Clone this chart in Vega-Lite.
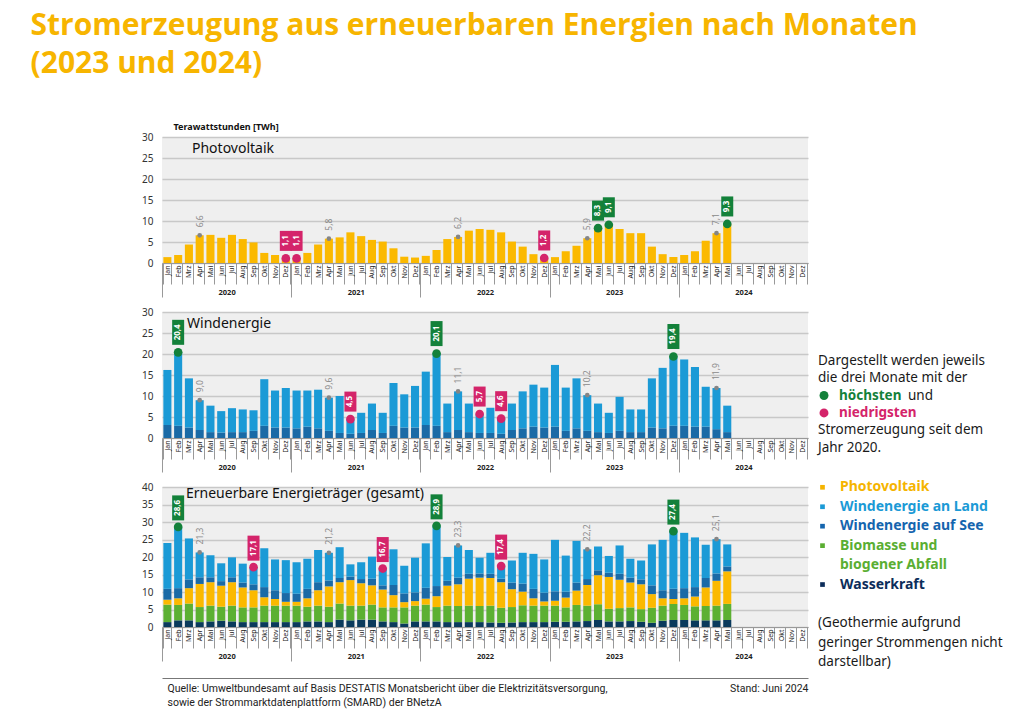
{
  "$schema": "https://vega.github.io/schema/vega-lite/v6.json",
  "padding": {"left": 30, "top": 11, "right": 4, "bottom": 4},
  "config": {
    "font": "Noto Sans",
    "view": {"stroke": null},
    "locale": {"number": {"decimal": ",", "thousands": ".", "grouping": [3], "currency": ["", " €"]}}
  },
  "title": {
    "text": ["Stromerzeugung aus erneuerbaren Energien nach Monaten", "(2023 und 2024)"],
    "anchor": "start",
    "frame": "bounds",
    "dx": -111,
    "offset": 43,
    "font": "Open Sans",
    "fontSize": 30,
    "fontWeight": "bold",
    "lineHeight": 38,
    "color": "#f7b500"
  },
  "datasets": {
    "d": [
      {"m":"2020-01","pv":1.4,"on":13.1,"off":3.1,"bio":5.0,"wasser":1.4},
      {"m":"2020-02","pv":1.9,"on":17.5,"off":2.9,"bio":4.4,"wasser":1.9},
      {"m":"2020-03","pv":4.4,"on":11.7,"off":2.5,"bio":4.8,"wasser":1.9},
      {"m":"2020-04","pv":6.6,"on":7.1,"off":1.9,"bio":4.3,"wasser":1.4},
      {"m":"2020-05","pv":6.7,"on":6.3,"off":1.4,"bio":4.5,"wasser":1.6},
      {"m":"2020-06","pv":6.0,"on":5.1,"off":1.3,"bio":4.0,"wasser":1.8},
      {"m":"2020-07","pv":6.7,"on":5.7,"off":1.4,"bio":4.5,"wasser":1.6},
      {"m":"2020-08","pv":5.7,"on":5.4,"off":1.4,"bio":4.2,"wasser":1.4},
      {"m":"2020-09","pv":4.9,"on":4.9,"off":1.7,"bio":4.2,"wasser":1.4},
      {"m":"2020-10","pv":2.4,"on":11.1,"off":2.9,"bio":4.7,"wasser":1.4},
      {"m":"2020-11","pv":1.9,"on":8.8,"off":2.5,"bio":4.7,"wasser":1.4},
      {"m":"2020-12","pv":1.1,"on":9.4,"off":2.5,"bio":4.7,"wasser":1.4},
      {"m":"2021-01","pv":1.1,"on":9.0,"off":2.3,"bio":4.7,"wasser":1.4},
      {"m":"2021-02","pv":2.4,"on":8.6,"off":2.7,"bio":4.2,"wasser":1.6},
      {"m":"2021-03","pv":4.4,"on":9.2,"off":2.3,"bio":4.5,"wasser":1.6},
      {"m":"2021-04","pv":5.8,"on":7.9,"off":1.7,"bio":4.4,"wasser":1.4},
      {"m":"2021-05","pv":6.1,"on":8.8,"off":1.2,"bio":4.6,"wasser":2.1},
      {"m":"2021-06","pv":7.3,"on":3.5,"off":1.0,"bio":4.2,"wasser":1.9},
      {"m":"2021-07","pv":6.4,"on":4.8,"off":1.2,"bio":4.0,"wasser":2.1},
      {"m":"2021-08","pv":5.5,"on":6.3,"off":1.9,"bio":4.3,"wasser":2.1},
      {"m":"2021-09","pv":5.1,"on":4.8,"off":1.2,"bio":4.0,"wasser":1.6},
      {"m":"2021-10","pv":3.5,"on":10.2,"off":2.9,"bio":4.2,"wasser":1.4},
      {"m":"2021-11","pv":1.5,"on":7.9,"off":2.5,"bio":4.6,"wasser":1.0},
      {"m":"2021-12","pv":1.3,"on":9.9,"off":2.5,"bio":4.5,"wasser":1.6},
      {"m":"2022-01","pv":1.7,"on":12.7,"off":3.1,"bio":4.8,"wasser":1.6},
      {"m":"2022-02","pv":3.1,"on":17.2,"off":2.9,"bio":4.1,"wasser":1.6},
      {"m":"2022-03","pv":5.7,"on":6.8,"off":1.4,"bio":4.7,"wasser":1.4},
      {"m":"2022-04","pv":6.2,"on":9.2,"off":1.9,"bio":4.6,"wasser":1.4},
      {"m":"2022-05","pv":7.7,"on":6.8,"off":1.4,"bio":4.7,"wasser":1.4},
      {"m":"2022-06","pv":8.1,"on":4.5,"off":1.2,"bio":4.6,"wasser":1.4},
      {"m":"2022-07","pv":7.9,"on":6.0,"off":1.2,"bio":4.8,"wasser":1.3},
      {"m":"2022-08","pv":7.3,"on":3.6,"off":1.0,"bio":4.3,"wasser":1.2},
      {"m":"2022-09","pv":5.1,"on":6.3,"off":1.9,"bio":4.4,"wasser":1.3},
      {"m":"2022-10","pv":3.9,"on":8.8,"off":2.3,"bio":4.8,"wasser":1.4},
      {"m":"2022-11","pv":2.1,"on":10.0,"off":2.7,"bio":4.7,"wasser":1.4},
      {"m":"2022-12","pv":1.2,"on":9.5,"off":2.5,"bio":4.7,"wasser":1.4},
      {"m":"2023-01","pv":1.4,"on":14.7,"off":2.7,"bio":4.6,"wasser":1.5},
      {"m":"2023-02","pv":2.8,"on":10.3,"off":1.7,"bio":4.1,"wasser":1.5},
      {"m":"2023-03","pv":4.1,"on":11.9,"off":2.3,"bio":4.7,"wasser":1.6},
      {"m":"2023-04","pv":5.9,"on":8.5,"off":1.7,"bio":4.4,"wasser":1.7},
      {"m":"2023-05","pv":8.3,"on":6.8,"off":1.4,"bio":4.5,"wasser":2.0},
      {"m":"2023-06","pv":9.1,"on":4.8,"off":1.2,"bio":3.6,"wasser":1.6},
      {"m":"2023-07","pv":8.1,"on":8.1,"off":1.7,"bio":3.8,"wasser":1.6},
      {"m":"2023-08","pv":7.1,"on":5.4,"off":1.4,"bio":3.9,"wasser":1.7},
      {"m":"2023-09","pv":7.1,"on":5.4,"off":1.4,"bio":3.6,"wasser":1.5},
      {"m":"2023-10","pv":3.9,"on":11.7,"off":2.5,"bio":4.3,"wasser":1.2},
      {"m":"2023-11","pv":2.1,"on":14.4,"off":2.3,"bio":4.3,"wasser":1.8},
      {"m":"2023-12","pv":1.4,"on":16.5,"off":2.9,"bio":4.6,"wasser":2.0},
      {"m":"2024-01","pv":1.9,"on":15.8,"off":2.9,"bio":4.3,"wasser":2.0},
      {"m":"2024-02","pv":2.8,"on":14.2,"off":2.7,"bio":4.0,"wasser":1.9},
      {"m":"2024-03","pv":5.3,"on":9.5,"off":2.7,"bio":4.1,"wasser":1.9},
      {"m":"2024-04","pv":7.1,"on":9.8,"off":2.1,"bio":4.2,"wasser":1.9},
      {"m":"2024-05","pv":9.3,"on":6.3,"off":1.4,"bio":4.6,"wasser":2.0}
    ],
    "marks": [
      {"p":"pv","m":"2023-05","v":8.3,"k":"high"},
      {"p":"pv","m":"2023-06","v":9.1,"k":"high"},
      {"p":"pv","m":"2024-05","v":9.3,"k":"high"},
      {"p":"pv","m":"2020-12","v":1.1,"k":"low"},
      {"p":"pv","m":"2021-01","v":1.1,"k":"low"},
      {"p":"pv","m":"2022-12","v":1.2,"k":"low"},
      {"p":"pv","m":"2020-04","v":6.6,"k":"apr"},
      {"p":"pv","m":"2021-04","v":5.8,"k":"apr"},
      {"p":"pv","m":"2022-04","v":6.2,"k":"apr"},
      {"p":"pv","m":"2023-04","v":5.9,"k":"apr"},
      {"p":"pv","m":"2024-04","v":7.1,"k":"apr"},
      {"p":"wind","m":"2020-02","v":20.4,"k":"high"},
      {"p":"wind","m":"2022-02","v":20.1,"k":"high"},
      {"p":"wind","m":"2023-12","v":19.4,"k":"high"},
      {"p":"wind","m":"2021-06","v":4.5,"k":"low"},
      {"p":"wind","m":"2022-06","v":5.7,"k":"low"},
      {"p":"wind","m":"2022-08","v":4.6,"k":"low"},
      {"p":"wind","m":"2020-04","v":9.0,"k":"apr"},
      {"p":"wind","m":"2021-04","v":9.6,"k":"apr"},
      {"p":"wind","m":"2022-04","v":11.1,"k":"apr"},
      {"p":"wind","m":"2023-04","v":10.2,"k":"apr"},
      {"p":"wind","m":"2024-04","v":11.9,"k":"apr"},
      {"p":"total","m":"2020-02","v":28.6,"k":"high"},
      {"p":"total","m":"2022-02","v":28.9,"k":"high"},
      {"p":"total","m":"2023-12","v":27.4,"k":"high"},
      {"p":"total","m":"2020-09","v":17.1,"k":"low"},
      {"p":"total","m":"2021-09","v":16.7,"k":"low"},
      {"p":"total","m":"2022-08","v":17.4,"k":"low"},
      {"p":"total","m":"2020-04","v":21.3,"k":"apr"},
      {"p":"total","m":"2021-04","v":21.2,"k":"apr"},
      {"p":"total","m":"2022-04","v":23.3,"k":"apr"},
      {"p":"total","m":"2023-04","v":22.2,"k":"apr"},
      {"p":"total","m":"2024-04","v":25.1,"k":"apr"}
    ],
    "rank": [
      {"key":"wasser","rank":1},{"key":"bio","rank":2},{"key":"pv","rank":3},{"key":"off","rank":4},{"key":"on","rank":5}
    ],
    "leg2": [
      {"n":0,"t":"Dargestellt werden jeweils","k":"note"},
      {"n":1,"t":"die drei Monate mit der","k":"note"},
      {"n":2,"t":"höchsten","k":"high"},
      {"n":2,"t":"und","k":"und"},
      {"n":3,"t":"niedrigsten","k":"low"},
      {"n":4,"t":"Stromerzeugung seit dem","k":"note"},
      {"n":5,"t":"Jahr 2020.","k":"note"}
    ],
    "leg3": [
      {"n":0,"t":"Photovoltaik","k":"pv"},
      {"n":1,"t":"Windenergie an Land","k":"on"},
      {"n":2,"t":"Windenergie auf See","k":"off"},
      {"n":3,"t":"Biomasse und","k":"bio"},
      {"n":4,"t":"biogener Abfall","k":"bio"},
      {"n":5,"t":"Wasserkraft","k":"wasser"},
      {"n":7,"t":"(Geothermie aufgrund","k":"note"},
      {"n":8,"t":"geringer Strommengen nicht","k":"note"},
      {"n":9,"t":"darstellbar)","k":"note"}
    ]
  },
  "columns": 2,
  "spacing": {"row": 49, "column": 10},
  "bounds": "flush",
  "resolve": {"scale": {"color": "independent"}},
  "concat": [
    {
      "width": 646, "height": 126,
      "view": {"fill": "#efefef", "stroke": null},
      "title": {"text": "Photovoltaik", "anchor": "start", "frame": "group", "offset": -41, "dx": 30, "fontSize": 14, "fontWeight": "normal", "baseline": "middle", "color": "#111"},
      "resolve": {"axis": {"x": "independent", "y": "independent"}},
      "layer": [
        {
          "data": {"name": "d"},
          "mark": {"type": "bar", "color": "#fbb900"},
          "encoding": {
            "x": {"field": "m", "type": "ordinal",
              "scale": {"domain": ["2020-01","2020-02","2020-03","2020-04","2020-05","2020-06","2020-07","2020-08","2020-09","2020-10","2020-11","2020-12","2021-01","2021-02","2021-03","2021-04","2021-05","2021-06","2021-07","2021-08","2021-09","2021-10","2021-11","2021-12","2022-01","2022-02","2022-03","2022-04","2022-05","2022-06","2022-07","2022-08","2022-09","2022-10","2022-11","2022-12","2023-01","2023-02","2023-03","2023-04","2023-05","2023-06","2023-07","2023-08","2023-09","2023-10","2023-11","2023-12","2024-01","2024-02","2024-03","2024-04","2024-05","2024-06","2024-07","2024-08","2024-09","2024-10","2024-11","2024-12"], "paddingInner": 0.25, "paddingOuter": 0.125},
              "axis": {"orient": "bottom", "title": null, "labelExpr": "['Jan','Feb','Mrz','Apr','Mai','Jun','Jul','Aug','Sep','Okt','Nov','Dez'][toNumber(substring(datum.value,5,7))-1]", "labelAngle": 270, "labelAlign": "right", "labelBaseline": "middle", "labelPadding": -19, "labelFontSize": 7, "labelColor": "#222", "tickBand": "extent", "tickSize": 21, "tickColor": "#999", "domainColor": "#999", "labelOverlap": false, "labelBound": false, "labelFlush": false, "grid": false}},
            "y": {"field": "pv", "type": "quantitative", "scale": {"domain": [0, 30]},
              "axis": {"orient": "left", "title": "Terawattstunden [TWh]", "titleAngle": 0, "titleAlign": "left", "titleBaseline": "middle", "titleX": 11, "titleY": -11, "titleFontSize": 9, "titleFontWeight": "bold", "titleColor": "#111", "values": [0,5,10,15,20,25,30], "grid": true, "gridColor": "#c8c8c8", "gridWidth": 1.6, "domain": false, "ticks": false, "labelPadding": 9, "labelFontSize": 10, "labelColor": "#333"}}
          }
        },
        {
          "data": {"name": "marks"},
          "transform": [{"filter": "datum.p == 'pv' && datum.k != 'apr'"}],
          "mark": {"type": "point", "shape": "circle", "filled": true, "size": 75, "opacity": 1},
          "encoding": {
            "x": {"field": "m", "type": "ordinal",
              "axis": {"orient": "bottom", "title": null, "values": ["2020-01","2021-01","2022-01","2023-01","2024-01"], "labelExpr": "substring(datum.value,0,4)", "tickOffset": -5.383, "labelOffset": 64.6, "tickSize": 34, "tickColor": "#999", "domain": false, "labelAngle": 0, "labelPadding": -9, "labelFontSize": 7.5, "labelFontWeight": "bold", "labelColor": "#222", "grid": false, "labelOverlap": false, "labelBound": false, "labelFlush": false}},
            "y": {"field": "v", "type": "quantitative", "axis": null},
            "color": {"condition": {"test": "datum.k == 'high'", "value": "#13813a"}, "value": "#d4246a"}
          }
        },
        {
          "data": {"name": "marks"},
          "transform": [{"filter": "datum.p == 'pv' && datum.k != 'apr' && datum.v < 10"}],
          "mark": {"type": "point", "shape": "M-0.6,-1H0.6V1H-0.6Z", "filled": true, "size": 400, "opacity": 1, "yOffset": -17.5},
          "encoding": {
            "x": {"field": "m", "type": "ordinal", "axis": null},
            "y": {"field": "v", "type": "quantitative", "axis": null},
            "color": {"condition": {"test": "datum.k == 'high'", "value": "#13813a"}, "value": "#d4246a"}
          }
        },
        {
          "data": {"name": "marks"},
          "transform": [{"filter": "datum.p == 'pv' && datum.k != 'apr' && datum.v < 10"}],
          "mark": {"type": "text", "angle": 270, "align": "center", "baseline": "middle", "yOffset": -17.5, "color": "white", "fontSize": 8, "fontWeight": "bold"},
          "encoding": {
            "x": {"field": "m", "type": "ordinal", "axis": null},
            "y": {"field": "v", "type": "quantitative", "axis": null},
            "text": {"field": "v", "type": "quantitative", "format": ".1f"}
          }
        },
        {
          "data": {"name": "marks"},
          "transform": [{"filter": "datum.p == 'pv' && datum.k == 'apr'"}],
          "mark": {"type": "point", "shape": "circle", "filled": true, "size": 22, "opacity": 1, "color": "#858585"},
          "encoding": {
            "x": {"field": "m", "type": "ordinal", "axis": null},
            "y": {"field": "v", "type": "quantitative", "axis": null}
          }
        },
        {
          "data": {"name": "marks"},
          "transform": [{"filter": "datum.p == 'pv' && datum.k == 'apr'"}],
          "mark": {"type": "text", "angle": 270, "align": "left", "baseline": "middle", "yOffset": -8, "color": "#8a8a8a", "fontSize": 8.5},
          "encoding": {
            "x": {"field": "m", "type": "ordinal", "axis": null},
            "y": {"field": "v", "type": "quantitative", "axis": null},
            "text": {"field": "v", "type": "quantitative", "format": ".1f"}
          }
        }
      ]
    },
    {
      "width": 190, "height": 126,
      "data": {"values": [{}]},
      "mark": {"type": "text", "text": ""}
    },
    {
      "width": 646, "height": 126,
      "view": {"fill": "#efefef", "stroke": null},
      "title": {"text": "Windenergie", "anchor": "start", "frame": "group", "offset": -31, "dx": 25, "fontSize": 14, "fontWeight": "normal", "baseline": "middle", "color": "#111"},
      "resolve": {"axis": {"x": "independent", "y": "independent"}},
      "layer": [
        {
          "data": {"name": "d"},
          "transform": [{"fold": ["off", "on"]}],
          "mark": {"type": "bar"},
          "encoding": {
            "x": {"field": "m", "type": "ordinal",
              "scale": {"domain": ["2020-01","2020-02","2020-03","2020-04","2020-05","2020-06","2020-07","2020-08","2020-09","2020-10","2020-11","2020-12","2021-01","2021-02","2021-03","2021-04","2021-05","2021-06","2021-07","2021-08","2021-09","2021-10","2021-11","2021-12","2022-01","2022-02","2022-03","2022-04","2022-05","2022-06","2022-07","2022-08","2022-09","2022-10","2022-11","2022-12","2023-01","2023-02","2023-03","2023-04","2023-05","2023-06","2023-07","2023-08","2023-09","2023-10","2023-11","2023-12","2024-01","2024-02","2024-03","2024-04","2024-05","2024-06","2024-07","2024-08","2024-09","2024-10","2024-11","2024-12"], "paddingInner": 0.25, "paddingOuter": 0.125},
              "axis": {"orient": "bottom", "title": null, "labelExpr": "['Jan','Feb','Mrz','Apr','Mai','Jun','Jul','Aug','Sep','Okt','Nov','Dez'][toNumber(substring(datum.value,5,7))-1]", "labelAngle": 270, "labelAlign": "right", "labelBaseline": "middle", "labelPadding": -19, "labelFontSize": 7, "labelColor": "#222", "tickBand": "extent", "tickSize": 21, "tickColor": "#999", "domainColor": "#999", "labelOverlap": false, "labelBound": false, "labelFlush": false, "grid": false}},
            "y": {"field": "value", "type": "quantitative", "stack": "zero", "scale": {"domain": [0, 30]},
              "axis": {"orient": "left", "title": null, "values": [0,5,10,15,20,25,30], "grid": true, "gridColor": "#c8c8c8", "gridWidth": 1.6, "domain": false, "ticks": false, "labelPadding": 9, "labelFontSize": 10, "labelColor": "#333"}},
            "color": {"field": "key", "type": "nominal", "scale": {"domain": ["off", "on"], "range": ["#1a6aa6", "#1b9ad6"]}, "legend": null},
            "order": {"field": "key"}
          }
        },
        {
          "data": {"name": "marks"},
          "transform": [{"filter": "datum.p == 'wind' && datum.k != 'apr'"}],
          "mark": {"type": "point", "shape": "circle", "filled": true, "size": 75, "opacity": 1},
          "encoding": {
            "x": {"field": "m", "type": "ordinal",
              "axis": {"orient": "bottom", "title": null, "values": ["2020-01","2021-01","2022-01","2023-01","2024-01"], "labelExpr": "substring(datum.value,0,4)", "tickOffset": -5.383, "labelOffset": 64.6, "tickSize": 34, "tickColor": "#999", "domain": false, "labelAngle": 0, "labelPadding": -9, "labelFontSize": 7.5, "labelFontWeight": "bold", "labelColor": "#222", "grid": false, "labelOverlap": false, "labelBound": false, "labelFlush": false}},
            "y": {"field": "v", "type": "quantitative", "axis": null},
            "color": {"condition": {"test": "datum.k == 'high'", "value": "#13813a"}, "value": "#d4246a"}
          }
        },
        {
          "data": {"name": "marks"},
          "transform": [{"filter": "datum.p == 'wind' && datum.k != 'apr' && datum.v < 10"}],
          "mark": {"type": "point", "shape": "M-0.6,-1H0.6V1H-0.6Z", "filled": true, "size": 400, "opacity": 1, "yOffset": -17.5},
          "encoding": {
            "x": {"field": "m", "type": "ordinal", "axis": null},
            "y": {"field": "v", "type": "quantitative", "axis": null},
            "color": {"condition": {"test": "datum.k == 'high'", "value": "#13813a"}, "value": "#d4246a"}
          }
        },
        {
          "data": {"name": "marks"},
          "transform": [{"filter": "datum.p == 'wind' && datum.k != 'apr' && datum.v >= 10"}],
          "mark": {"type": "point", "shape": "M-0.48,-1H0.48V1H-0.48Z", "filled": true, "size": 625, "opacity": 1, "yOffset": -20},
          "encoding": {
            "x": {"field": "m", "type": "ordinal", "axis": null},
            "y": {"field": "v", "type": "quantitative", "axis": null},
            "color": {"condition": {"test": "datum.k == 'high'", "value": "#13813a"}, "value": "#d4246a"}
          }
        },
        {
          "data": {"name": "marks"},
          "transform": [{"filter": "datum.p == 'wind' && datum.k != 'apr' && datum.v < 10"}],
          "mark": {"type": "text", "angle": 270, "align": "center", "baseline": "middle", "yOffset": -17.5, "color": "white", "fontSize": 8, "fontWeight": "bold"},
          "encoding": {
            "x": {"field": "m", "type": "ordinal", "axis": null},
            "y": {"field": "v", "type": "quantitative", "axis": null},
            "text": {"field": "v", "type": "quantitative", "format": ".1f"}
          }
        },
        {
          "data": {"name": "marks"},
          "transform": [{"filter": "datum.p == 'wind' && datum.k != 'apr' && datum.v >= 10"}],
          "mark": {"type": "text", "angle": 270, "align": "center", "baseline": "middle", "yOffset": -20, "color": "white", "fontSize": 8, "fontWeight": "bold"},
          "encoding": {
            "x": {"field": "m", "type": "ordinal", "axis": null},
            "y": {"field": "v", "type": "quantitative", "axis": null},
            "text": {"field": "v", "type": "quantitative", "format": ".1f"}
          }
        },
        {
          "data": {"name": "marks"},
          "transform": [{"filter": "datum.p == 'wind' && datum.k == 'apr'"}],
          "mark": {"type": "point", "shape": "circle", "filled": true, "size": 22, "opacity": 1, "color": "#858585"},
          "encoding": {
            "x": {"field": "m", "type": "ordinal", "axis": null},
            "y": {"field": "v", "type": "quantitative", "axis": null}
          }
        },
        {
          "data": {"name": "marks"},
          "transform": [{"filter": "datum.p == 'wind' && datum.k == 'apr'"}],
          "mark": {"type": "text", "angle": 270, "align": "left", "baseline": "middle", "yOffset": -8, "color": "#8a8a8a", "fontSize": 8.5},
          "encoding": {
            "x": {"field": "m", "type": "ordinal", "axis": null},
            "y": {"field": "v", "type": "quantitative", "axis": null},
            "text": {"field": "v", "type": "quantitative", "format": ".1f"}
          }
        }
      ]
    },
    {
      "width": 190, "height": 126,
      "data": {"name": "leg2"},
      "encoding": {
        "x": {"datum": 0, "type": "quantitative", "scale": {"domain": [0, 1]}, "axis": null},
        "y": {"field": "n", "type": "quantitative", "scale": {"domain": [-2.8, 4.44], "reverse": true, "zero": false, "nice": false}, "axis": null}
      },
      "layer": [
        {
          "transform": [{"filter": "datum.k == 'note'"}],
          "mark": {"type": "text", "align": "left", "baseline": "middle", "fontSize": 13.5, "color": "#1a1a1a"},
          "encoding": {"text": {"field": "t"}}
        },
        {
          "transform": [{"filter": "datum.k == 'und'"}],
          "mark": {"type": "text", "align": "left", "baseline": "middle", "fontSize": 13.5, "color": "#1a1a1a", "dx": 90},
          "encoding": {"text": {"field": "t"}}
        },
        {
          "transform": [{"filter": "datum.k == 'high' || datum.k == 'low'"}],
          "mark": {"type": "text", "align": "left", "baseline": "middle", "fontSize": 13.5, "fontWeight": "bold", "dx": 21},
          "encoding": {
            "text": {"field": "t"},
            "color": {"condition": {"test": "datum.k == 'high'", "value": "#13813a"}, "value": "#d4246a"}
          }
        },
        {
          "transform": [{"filter": "datum.k == 'high' || datum.k == 'low'"}],
          "mark": {"type": "point", "shape": "circle", "filled": true, "size": 80, "opacity": 1, "xOffset": 6},
          "encoding": {
            "color": {"condition": {"test": "datum.k == 'high'", "value": "#13813a"}, "value": "#d4246a"}
          }
        }
      ]
    },
    {
      "width": 646, "height": 140,
      "view": {"fill": "#efefef", "stroke": null},
      "title": {"text": "Erneuerbare Energieträger (gesamt)", "anchor": "start", "frame": "group", "offset": -26, "dx": 24, "fontSize": 14, "fontWeight": "normal", "baseline": "middle", "color": "#111"},
      "resolve": {"axis": {"x": "independent", "y": "independent"}},
      "layer": [
        {
          "data": {"name": "d"},
          "transform": [
            {"fold": ["wasser", "bio", "pv", "off", "on"]},
            {"lookup": "key", "from": {"data": {"name": "rank"}, "key": "key", "fields": ["rank"]}}
          ],
          "mark": {"type": "bar"},
          "encoding": {
            "x": {"field": "m", "type": "ordinal",
              "scale": {"domain": ["2020-01","2020-02","2020-03","2020-04","2020-05","2020-06","2020-07","2020-08","2020-09","2020-10","2020-11","2020-12","2021-01","2021-02","2021-03","2021-04","2021-05","2021-06","2021-07","2021-08","2021-09","2021-10","2021-11","2021-12","2022-01","2022-02","2022-03","2022-04","2022-05","2022-06","2022-07","2022-08","2022-09","2022-10","2022-11","2022-12","2023-01","2023-02","2023-03","2023-04","2023-05","2023-06","2023-07","2023-08","2023-09","2023-10","2023-11","2023-12","2024-01","2024-02","2024-03","2024-04","2024-05","2024-06","2024-07","2024-08","2024-09","2024-10","2024-11","2024-12"], "paddingInner": 0.25, "paddingOuter": 0.125},
              "axis": {"orient": "bottom", "title": null, "labelExpr": "['Jan','Feb','Mrz','Apr','Mai','Jun','Jul','Aug','Sep','Okt','Nov','Dez'][toNumber(substring(datum.value,5,7))-1]", "labelAngle": 270, "labelAlign": "right", "labelBaseline": "middle", "labelPadding": -19, "labelFontSize": 7, "labelColor": "#222", "tickBand": "extent", "tickSize": 21, "tickColor": "#999", "domainColor": "#999", "labelOverlap": false, "labelBound": false, "labelFlush": false, "grid": false}},
            "y": {"field": "value", "type": "quantitative", "stack": "zero", "scale": {"domain": [0, 40]},
              "axis": {"orient": "left", "title": null, "values": [0,5,10,15,20,25,30,35,40], "grid": true, "gridColor": "#c8c8c8", "gridWidth": 1.6, "domain": false, "ticks": false, "labelPadding": 9, "labelFontSize": 10, "labelColor": "#333"}},
            "color": {"field": "key", "type": "nominal", "scale": {"domain": ["wasser", "bio", "pv", "off", "on"], "range": ["#0a3a5c", "#5cb032", "#fbb900", "#1a6aa6", "#1b9ad6"]}, "legend": null},
            "order": {"field": "rank", "type": "quantitative"}
          }
        },
        {
          "data": {"name": "marks"},
          "transform": [{"filter": "datum.p == 'total' && datum.k != 'apr'"}],
          "mark": {"type": "point", "shape": "circle", "filled": true, "size": 75, "opacity": 1},
          "encoding": {
            "x": {"field": "m", "type": "ordinal",
              "axis": {"orient": "bottom", "title": null, "values": ["2020-01","2021-01","2022-01","2023-01","2024-01"], "labelExpr": "substring(datum.value,0,4)", "tickOffset": -5.383, "labelOffset": 64.6, "tickSize": 34, "tickColor": "#999", "domain": false, "labelAngle": 0, "labelPadding": -9, "labelFontSize": 7.5, "labelFontWeight": "bold", "labelColor": "#222", "grid": false, "labelOverlap": false, "labelBound": false, "labelFlush": false}},
            "y": {"field": "v", "type": "quantitative", "axis": null},
            "color": {"condition": {"test": "datum.k == 'high'", "value": "#13813a"}, "value": "#d4246a"}
          }
        },
        {
          "data": {"name": "marks"},
          "transform": [{"filter": "datum.p == 'total' && datum.k != 'apr'"}],
          "mark": {"type": "point", "shape": "M-0.48,-1H0.48V1H-0.48Z", "filled": true, "size": 625, "opacity": 1, "yOffset": -19},
          "encoding": {
            "x": {"field": "m", "type": "ordinal", "axis": null},
            "y": {"field": "v", "type": "quantitative", "axis": null},
            "color": {"condition": {"test": "datum.k == 'high'", "value": "#13813a"}, "value": "#d4246a"}
          }
        },
        {
          "data": {"name": "marks"},
          "transform": [{"filter": "datum.p == 'total' && datum.k != 'apr'"}],
          "mark": {"type": "text", "angle": 270, "align": "center", "baseline": "middle", "yOffset": -19, "color": "white", "fontSize": 8, "fontWeight": "bold"},
          "encoding": {
            "x": {"field": "m", "type": "ordinal", "axis": null},
            "y": {"field": "v", "type": "quantitative", "axis": null},
            "text": {"field": "v", "type": "quantitative", "format": ".1f"}
          }
        },
        {
          "data": {"name": "marks"},
          "transform": [{"filter": "datum.p == 'total' && datum.k == 'apr'"}],
          "mark": {"type": "point", "shape": "circle", "filled": true, "size": 22, "opacity": 1, "color": "#858585"},
          "encoding": {
            "x": {"field": "m", "type": "ordinal",
              "axis": {"orient": "bottom", "offset": 51, "domain": true, "domainColor": "#777", "ticks": false, "labels": false, "grid": false, "title": ["Quelle: Umweltbundesamt auf Basis DESTATIS Monatsbericht über die Elektrizitätsversorgung,", "sowie der Strommarktdatenplattform (SMARD) der BNetzA"], "titleAnchor": "start", "titleAlign": "left", "titleX": 5, "titlePadding": 5, "titleFont": "Roboto", "titleFontSize": 10.5, "titleFontWeight": "normal", "titleColor": "#222", "titleLineHeight": 14}},
            "y": {"field": "v", "type": "quantitative", "axis": null}
          }
        },
        {
          "data": {"name": "marks"},
          "transform": [{"filter": "datum.p == 'total' && datum.k == 'apr'"}],
          "mark": {"type": "text", "angle": 270, "align": "left", "baseline": "middle", "yOffset": -8, "color": "#8a8a8a", "fontSize": 8.5},
          "encoding": {
            "x": {"field": "m", "type": "ordinal",
              "axis": {"orient": "bottom", "offset": 51, "domain": false, "ticks": false, "labels": false, "grid": false, "title": "Stand: Juni 2024", "titleAnchor": "end", "titleAlign": "right", "titlePadding": 5, "titleFont": "Roboto", "titleFontSize": 10.5, "titleFontWeight": "normal", "titleColor": "#222"}},
            "y": {"field": "v", "type": "quantitative", "axis": null},
            "text": {"field": "v", "type": "quantitative", "format": ".1f"}
          }
        }
      ]
    },
    {
      "width": 190, "height": 140,
      "data": {"name": "leg3"},
      "encoding": {
        "x": {"datum": 0, "type": "quantitative", "scale": {"domain": [0, 1]}, "axis": null},
        "y": {"field": "n", "type": "quantitative", "scale": {"domain": [-0.015, 7.183], "reverse": true, "zero": false, "nice": false}, "axis": null}
      },
      "layer": [
        {
          "transform": [{"filter": "datum.k != 'note' && datum.t != 'biogener Abfall'"}],
          "mark": {"type": "point", "shape": "square", "filled": true, "size": 22, "opacity": 1, "xOffset": 4.5},
          "encoding": {
            "color": {"field": "k", "type": "nominal", "scale": {"domain": ["pv", "on", "off", "bio", "wasser"], "range": ["#f5b400", "#1b9ad6", "#1565ae", "#5aae32", "#0c2d5a"]}, "legend": null}
          }
        },
        {
          "transform": [{"filter": "datum.k != 'note'"}],
          "mark": {"type": "text", "align": "left", "baseline": "middle", "fontSize": 14, "fontWeight": "bold", "dx": 22},
          "encoding": {
            "text": {"field": "t"},
            "color": {"field": "k", "type": "nominal", "scale": {"domain": ["pv", "on", "off", "bio", "wasser"], "range": ["#f5b400", "#1b9ad6", "#1565ae", "#5aae32", "#0c2d5a"]}, "legend": null}
          }
        },
        {
          "transform": [{"filter": "datum.k == 'note'"}],
          "mark": {"type": "text", "align": "left", "baseline": "middle", "fontSize": 13.5, "color": "#1a1a1a"},
          "encoding": {"text": {"field": "t"}}
        }
      ]
    }
  ]
}
